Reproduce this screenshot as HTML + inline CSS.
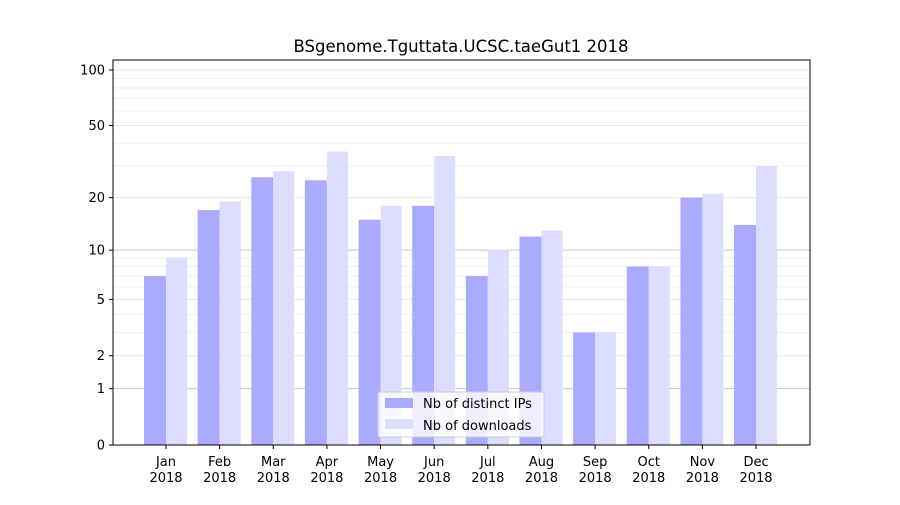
<!DOCTYPE html>
<html><head><meta charset="utf-8"><style>
body{margin:0;background:#fff;font-family:"Liberation Sans","DejaVu Sans",sans-serif}
</style></head><body>
<svg id="chart" width="900" height="500" xmlns="http://www.w3.org/2000/svg" font-family="DejaVu Sans, Liberation Sans, sans-serif">
<rect width="900" height="500" fill="#fff"/>
<g id="grid"></g>
<g id="bars"></g>
<rect x="113" y="60" width="697" height="385" fill="none" stroke="#000" stroke-width="1"/>
<g id="axes"></g>
<text x="461" y="52" text-anchor="middle" font-size="16.5">BSgenome.Tguttata.UCSC.taeGut1 2018</text>
<g>
<rect x="378" y="392" width="166" height="45" fill="#fff" fill-opacity="0.8" stroke="#ccc" rx="2"/>
<rect x="385" y="398" width="28" height="10" fill="#aaaaff"/>
<text x="423" y="408" font-size="13">Nb of distinct IPs</text>
<rect x="385" y="419" width="28" height="10" fill="#ddddff"/>
<text x="423" y="430" font-size="13">Nb of downloads</text>
</g>
</svg>
<script>
const months=["Jan","Feb","Mar","Apr","May","Jun","Jul","Aug","Sep","Oct","Nov","Dec"];
const ips=[7,17,26,25,15,18,7,12,3,8,20,14];
const downloads=[9,19,28,36,18,34,10,13,3,8,21,30];
const yTicks=[0,1,2,5,10,20,50,100];
const NS="http://www.w3.org/2000/svg";
function y(v){return 445-Math.log10(v+1)*187.1;}
function x(i){return 166+i*53.64;}
function mk(t,a,p){const e=document.createElementNS(NS,t);for(const k in a)e.setAttribute(k,a[k]);p.appendChild(e);return e;}
const grid=document.getElementById('grid'),bars=document.getElementById('bars'),axes=document.getElementById('axes');
const minor=[3,4,6,7,8,9,30,40,60,70,80,90];
minor.forEach(v=>{const l=mk('line',{x1:113,x2:810,y1:y(v),y2:y(v),stroke:'#eee','stroke-width':0.8},grid);

});
yTicks.forEach(v=>{const major=(v===1||v===10);
const l=mk('line',{x1:113,x2:810,y1:y(v),y2:y(v),stroke:major?'#c8c8c8':'#e8e8e8','stroke-width':1},grid);


const t=mk('line',{x1:109,x2:113,y1:y(v),y2:y(v),stroke:'#000'},axes);


const tx=mk('text',{x:105,y:y(v)+4.5,'text-anchor':'end','font-size':13},axes);tx.textContent=v;

});
months.forEach((m,i)=>{
const b1=mk('rect',{x:x(i)-22,y:y(ips[i]),width:22,height:445-y(ips[i]),fill:'#aaaaff'},bars);


const b2=mk('rect',{x:x(i),y:y(downloads[i]),width:21,height:445-y(downloads[i]),fill:'#ddddff'},bars);


const t=mk('line',{x1:x(i),x2:x(i),y1:445,y2:449,stroke:'#000'},axes);


const tx=mk('text',{x:x(i),y:466,'text-anchor':'middle','font-size':13},axes);tx.textContent=m;


const ty=mk('text',{x:x(i),y:482,'text-anchor':'middle','font-size':13},axes);ty.textContent='2018';


});
</script>
</body></html>
